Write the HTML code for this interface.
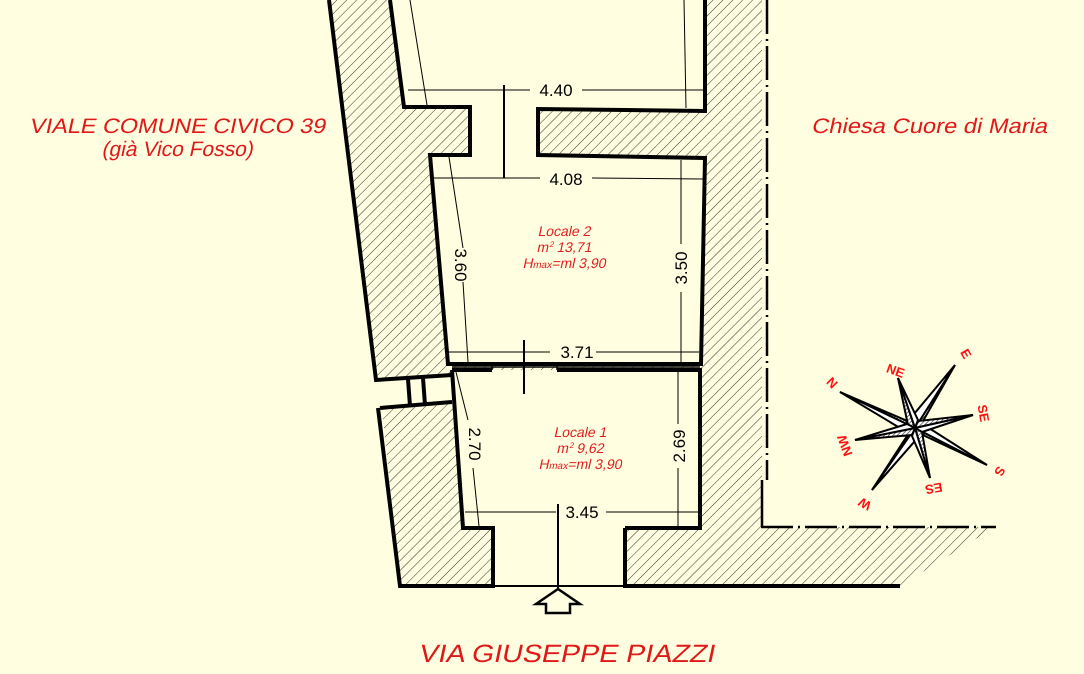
<!DOCTYPE html>
<html><head><meta charset="utf-8"><style>
html,body{margin:0;padding:0;background:#fffee0;}
svg{display:block}
text{font-family:"Liberation Sans",sans-serif;}
</style></head><body>
<svg width="1084" height="674" viewBox="0 0 1084 674" xmlns="http://www.w3.org/2000/svg">
<defs>
<pattern id="h" patternUnits="userSpaceOnUse" width="7" height="7" patternTransform="rotate(45)">
<rect width="7" height="7" fill="#fffee0"/>
<line x1="0" y1="0" x2="0" y2="7" stroke="#333" stroke-width="1"/>
</pattern>
<pattern id="h2" patternUnits="userSpaceOnUse" width="3" height="3" patternTransform="rotate(45)">
<rect width="3" height="3" fill="#fff"/>
<line x1="0" y1="0" x2="0" y2="3" stroke="#222" stroke-width="1.2"/>
</pattern>
</defs>
<rect width="1084" height="674" fill="#fffee0"/>
<polygon points="329,0 767,0 767,527 995,527 900,586 400,586 382,408 378,380" fill="url(#h)"/>
<polygon points="390,0 705,0 705,111 404,107" fill="#fffee0"/>
<rect x="470" y="107" width="68" height="50" fill="#fffee0"/>
<polygon points="430,155 705,158 701,364 448,364" fill="#fffee0"/>
<polygon points="452,370 700,370 700,528 463,528" fill="#fffee0"/>
<rect x="493" y="526" width="132" height="60" fill="#fffee0"/>
<polygon points="376,380 452,376 452,402 380,408" fill="#fffee0"/>
<rect x="762" y="0" width="330" height="527" fill="#fffee0"/>
<g fill="none" stroke="#000" stroke-width="4" stroke-linejoin="miter">
<polyline points="329,0 376,380 452,375"/>
<polyline points="380,408 452,402"/>
<polyline points="378,408 400,586 493,586 493,528 463,528 452,370"/>
<polyline points="625,528 625,586 900,586"/>
<polyline points="390,0 404,107 470,107 470,155 430,155 448,364 701,364 705,158 538,155 538,109 705,111 705,0"/>
<polyline points="625,528 700,528 700,370 557,370"/>
<polyline points="492,370 452,370"/>
<line x1="408" y1="379" x2="410" y2="406"/>
<line x1="423" y1="378" x2="425" y2="405"/>
</g>
<g stroke="#000" stroke-width="1.5" fill="none">
<line x1="452" y1="367" x2="492" y2="367"/>
<line x1="557" y1="367" x2="700" y2="367"/>
<line x1="492" y1="364" x2="492" y2="370"/>
<line x1="557" y1="364" x2="557" y2="370"/>
<line x1="492" y1="367" x2="557" y2="367"/>
</g>
<line x1="492" y1="586" x2="625" y2="586" stroke="#000" stroke-width="2"/>
<line x1="767" y1="0" x2="767" y2="480" stroke="#000" stroke-width="2.5" stroke-dasharray="34,5,2,5"/>
<line x1="762" y1="480" x2="762" y2="527" stroke="#000" stroke-width="2.5"/>
<line x1="761" y1="527" x2="996" y2="527" stroke="#000" stroke-width="2.5" stroke-dasharray="32,5,2,5"/>
<g stroke="#000" stroke-width="2">
<line x1="504" y1="85" x2="504" y2="178"/>
<line x1="524" y1="340" x2="524" y2="394"/>
<line x1="558" y1="504" x2="558" y2="588"/>
</g>
<polygon points="558,589 536,604 546,604 546,613 570,613 570,604 580,604" fill="#fffee0" stroke="#000" stroke-width="2.5"/>
<g stroke="#000" stroke-width="1" fill="none">
<line x1="408" y1="90" x2="530" y2="90"/><line x1="582" y1="90" x2="703" y2="90"/>
<line x1="410" y1="0" x2="427" y2="105"/><line x1="684" y1="0" x2="686" y2="108"/>
<line x1="433" y1="178" x2="540" y2="178"/><line x1="592" y1="178" x2="703" y2="179"/>
<line x1="449" y1="157" x2="463" y2="248"/><line x1="463" y1="282" x2="468" y2="362"/>
<line x1="681" y1="160" x2="681" y2="244"/><line x1="681" y1="292" x2="681" y2="362"/>
<line x1="449" y1="352" x2="550" y2="352"/><line x1="596" y1="352" x2="699" y2="352"/>
<line x1="456" y1="372" x2="468" y2="420"/><line x1="473" y1="468" x2="479" y2="526"/>
<line x1="678" y1="372" x2="678" y2="424"/><line x1="678" y1="468" x2="678" y2="526"/>
<line x1="465" y1="512" x2="556" y2="512"/><line x1="606" y1="512" x2="698" y2="512"/>
</g>
<g font-size="17" fill="#000" text-anchor="middle">
<text x="556" y="96">4.40</text>
<text x="566" y="185">4.08</text>
<text x="577" y="358">3.71</text>
<text x="582" y="518">3.45</text>
<text transform="translate(455,265) rotate(90)">3.60</text>
<text transform="translate(687,268) rotate(-90)">3.50</text>
<text transform="translate(469,444) rotate(90)">2.70</text>
<text transform="translate(685,446) rotate(-90)">2.69</text>
</g>
<g fill="#e02020" font-size="14" text-anchor="middle">
<text transform="translate(564,236) skewX(-12)">Locale 2</text>
<text transform="translate(564,252) skewX(-12)">m<tspan font-size="8" dy="-5">2</tspan><tspan dy="5"> 13,71</tspan></text>
<text transform="translate(564,268) skewX(-12)">H<tspan font-size="10">max</tspan>=ml 3,90</text>
<text transform="translate(580,437) skewX(-12)">Locale 1</text>
<text transform="translate(580,453) skewX(-12)">m<tspan font-size="8" dy="-5">2</tspan><tspan dy="5"> 9,62</tspan></text>
<text transform="translate(580,469) skewX(-12)">H<tspan font-size="10">max</tspan>=ml 3,90</text>
</g>
<g fill="#e01818" text-anchor="middle">
<text transform="translate(177,133) skewX(-12)" font-size="21" textLength="296" lengthAdjust="spacingAndGlyphs">VIALE COMUNE CIVICO 39</text>
<text transform="translate(177,156) skewX(-12)" font-size="21">(già Vico Fosso)</text>
<text transform="translate(929,133) skewX(-12)" font-size="21" textLength="236" lengthAdjust="spacingAndGlyphs">Chiesa Cuore di Maria</text>
<text transform="translate(566,662) skewX(-12)" font-size="25" textLength="296" lengthAdjust="spacingAndGlyphs">VIA GIUSEPPE PIAZZI</text>
</g>
<g stroke="#000" stroke-width="2" stroke-linejoin="miter">
<polygon points="915,428 840,392 905,420" fill="url(#h2)"/><polygon points="915,428 840,392 910,434" fill="#fff"/>
<polygon points="915,428 955,365 923,421" fill="url(#h2)"/><polygon points="915,428 955,365 909,420" fill="#fff"/>
<polygon points="915,428 987,465 925,436" fill="url(#h2)"/><polygon points="915,428 987,465 921,423" fill="#fff"/>
<polygon points="915,428 872,490 907,436" fill="url(#h2)"/><polygon points="915,428 872,490 921,434" fill="#fff"/>
<polygon points="915,428 898,378 908,425" fill="url(#h2)"/><polygon points="915,428 898,378 918,420" fill="#fff"/>
<polygon points="915,428 973,415 918,421" fill="url(#h2)"/><polygon points="915,428 973,415 922,432" fill="#fff"/>
<polygon points="915,428 930,478 922,432" fill="url(#h2)"/><polygon points="915,428 930,478 912,436" fill="#fff"/>
<polygon points="915,428 855,440 912,435" fill="url(#h2)"/><polygon points="915,428 855,440 907,424" fill="#fff"/>
</g>
<g fill="#ff1010" font-size="13" font-weight="bold" font-family="Liberation Serif,serif" text-anchor="middle">
<text transform="translate(829,386) rotate(45)">N</text>
<text transform="translate(894,375) rotate(20)">NE</text>
<text transform="translate(962,356) rotate(60)">E</text>
<text transform="translate(979,414) rotate(80)">SE</text>
<text transform="translate(996,469) rotate(120)">S</text>
<text transform="translate(933,484) rotate(170)">ES</text>
<text transform="translate(867,500) rotate(210)">W</text>
<text transform="translate(849,444) rotate(250)">NW</text>
</g>
</svg>
</body></html>
